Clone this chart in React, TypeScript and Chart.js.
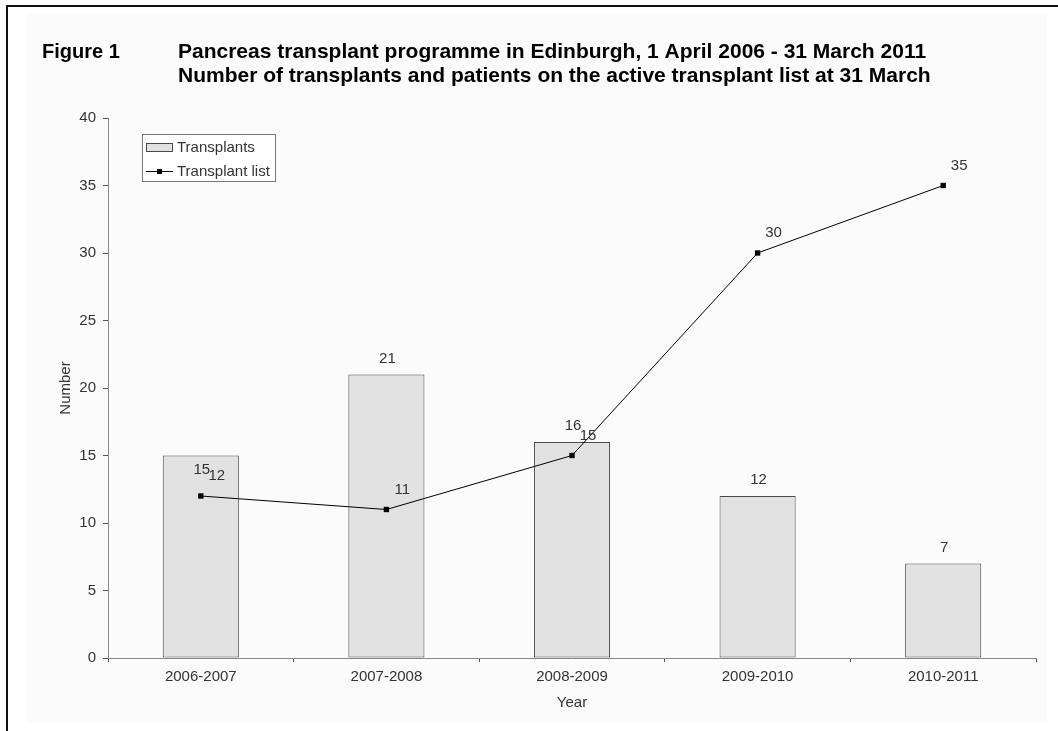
import React, { useEffect, useRef } from "react";
import { Chart, registerables } from "chart.js";

Chart.register(...registerables);

const categories = ["2006-2007", "2007-2008", "2008-2009", "2009-2010", "2010-2011"];
const transplants = [15, 21, 16, 12, 7];
const transplantList = [12, 11, 15, 30, 35];
const seriesNames = ["Transplants", "Transplant list"];
const yMin = 0;
const yMax = 40;
const yStep = 5;
const figureLabel = "Figure 1";
const titleLines = [
  "Pancreas transplant programme in Edinburgh, 1 April 2006 - 31 March 2011",
  "Number of transplants and patients on the active transplant list at 31 March",
];
const xAxisTitle = "Year";
const yAxisTitle = "Number";

// label placement tweaks (the first bar label sits inside its bar in the original)
const barLabelNudge = [30, 0, 0, 0, 0];

const FONT = "Arial, 'Liberation Sans', sans-serif";
const TEXT = "#333333";

const framePlugin = {
  id: "frame",
  beforeDraw(chart: any) {
    const ctx = chart.ctx;
    ctx.save();
    ctx.fillStyle = "#ffffff";
    ctx.fillRect(0, 0, chart.width, chart.height);
    ctx.fillStyle = "#fbfbfb";
    ctx.fillRect(27, 14, 1020, 708);
    ctx.fillStyle = "#111111";
    ctx.fillRect(7, 5, chart.width - 7, 2);
    ctx.fillRect(6, 5, 2, chart.height - 5);
    ctx.fillStyle = "#000000";
    ctx.textAlign = "left";
    ctx.textBaseline = "alphabetic";
    ctx.font = `bold 20px ${FONT}`;
    ctx.fillText(figureLabel, 42, 57.5);
    ctx.font = `bold 21px ${FONT}`;
    ctx.fillText(titleLines[0], 178, 57.5);
    ctx.fillText(titleLines[1], 178, 82);
    ctx.restore();
  },
};

const labelsPlugin = {
  id: "valueLabels",
  afterDatasetsDraw(chart: any) {
    const ctx = chart.ctx;
    ctx.save();
    ctx.font = `15px ${FONT}`;
    ctx.fillStyle = TEXT;
    ctx.textAlign = "center";
    ctx.textBaseline = "middle";
    chart.data.datasets.forEach((ds: any, i: number) => {
      const meta = chart.getDatasetMeta(i);
      meta.data.forEach((el: any, j: number) => {
        const v = ds.data[j];
        if (ds.type === "bar") {
          ctx.fillText(String(v), el.x + 1, el.y - 16 + barLabelNudge[j]);
        } else {
          ctx.fillText(String(v), el.x + 16, el.y - 20);
        }
      });
    });
    ctx.restore();
  },
};

const legendPlugin = {
  id: "boxLegend",
  afterDraw(chart: any) {
    const ctx = chart.ctx;
    const bar = chart.data.datasets.find((d: any) => d.type === "bar");
    const line = chart.data.datasets.find((d: any) => d.type === "line");
    ctx.save();
    ctx.fillStyle = "#ffffff";
    ctx.fillRect(142, 134, 134, 47);
    ctx.strokeStyle = "#777777";
    ctx.lineWidth = 1;
    ctx.strokeRect(142.5, 134.5, 133, 47);
    // bar swatch
    ctx.fillStyle = bar.backgroundColor;
    ctx.fillRect(146, 143, 27, 9);
    ctx.strokeStyle = bar.borderColor;
    ctx.strokeRect(146.5, 143.5, 26, 8);
    // line swatch
    ctx.strokeStyle = line.borderColor;
    ctx.beginPath();
    ctx.moveTo(146, 171.5);
    ctx.lineTo(173, 171.5);
    ctx.stroke();
    ctx.fillStyle = line.pointBackgroundColor;
    ctx.fillRect(157, 169, 5, 5);
    ctx.fillStyle = TEXT;
    ctx.font = `15px ${FONT}`;
    ctx.textAlign = "left";
    ctx.textBaseline = "middle";
    ctx.fillText(bar.label, 177, 147.5);
    ctx.fillText(line.label, 177, 171.5);
    ctx.restore();
  },
};

export default function App() {
  const ref = useRef<HTMLCanvasElement>(null);
  useEffect(() => {
    if (!ref.current) return;
    const chart = new Chart(ref.current, {
      type: "bar",
      data: {
        labels: categories,
        datasets: [
          {
            type: "line",
            label: seriesNames[1],
            data: transplantList,
            borderColor: "#000000",
            borderWidth: 1,
            pointStyle: "rect",
            pointRadius: 3.8,
            pointBackgroundColor: "#000000",
            pointBorderColor: "#000000",
            pointBorderWidth: 0,
            tension: 0,
            order: 0,
          } as any,
          {
            type: "bar",
            label: seriesNames[0],
            data: transplants,
            backgroundColor: "#e2e2e2",
            borderColor: "#4a4a4a",
            borderWidth: 1,
            borderSkipped: false,
            barPercentage: 0.41,
            categoryPercentage: 1,
            order: 1,
          } as any,
        ],
      },
      options: {
        responsive: false,
        animation: false,
        devicePixelRatio: 1,
        layout: { padding: { top: 118, right: 22, left: 0, bottom: 0 } },
        plugins: {
          legend: { display: false },
          tooltip: { enabled: false },
          title: { display: false },
        },
        scales: {
          x: {
            grid: {
              display: true,
              drawOnChartArea: false,
              drawTicks: true,
              tickLength: 4,
              color: "#555555",
              offset: true,
            },
            border: { display: true, color: "#888888", width: 1 },
            ticks: { font: { family: FONT, size: 15 }, color: TEXT, padding: 6 },
            title: {
              display: true,
              text: xAxisTitle,
              font: { family: FONT, size: 15 },
              color: TEXT,
              padding: { top: 0, bottom: 19 },
            },
            afterFit(s: any) {
              s.height = 73;
            },
          },
          y: {
            min: yMin,
            max: yMax,
            ticks: { stepSize: yStep, font: { family: FONT, size: 15 }, color: TEXT, padding: 7 },
            grid: {
              display: true,
              drawOnChartArea: false,
              drawTicks: true,
              tickLength: 5,
              color: "#555555",
            },
            border: { display: true, color: "#888888", width: 1 },
            title: {
              display: true,
              text: yAxisTitle,
              font: { family: FONT, size: 15 },
              color: TEXT,
              padding: { top: 57, bottom: 0 },
            },
            afterFit(s: any) {
              s.width = 108;
            },
          },
        },
      } as any,
      plugins: [framePlugin, labelsPlugin, legendPlugin],
    });
    return () => chart.destroy();
  }, []);
  return (
    <div style={{ position: "absolute", left: 0, top: 0 }}>
      <canvas ref={ref} width={1058} height={731} style={{ display: "block" }} />
    </div>
  );
}
